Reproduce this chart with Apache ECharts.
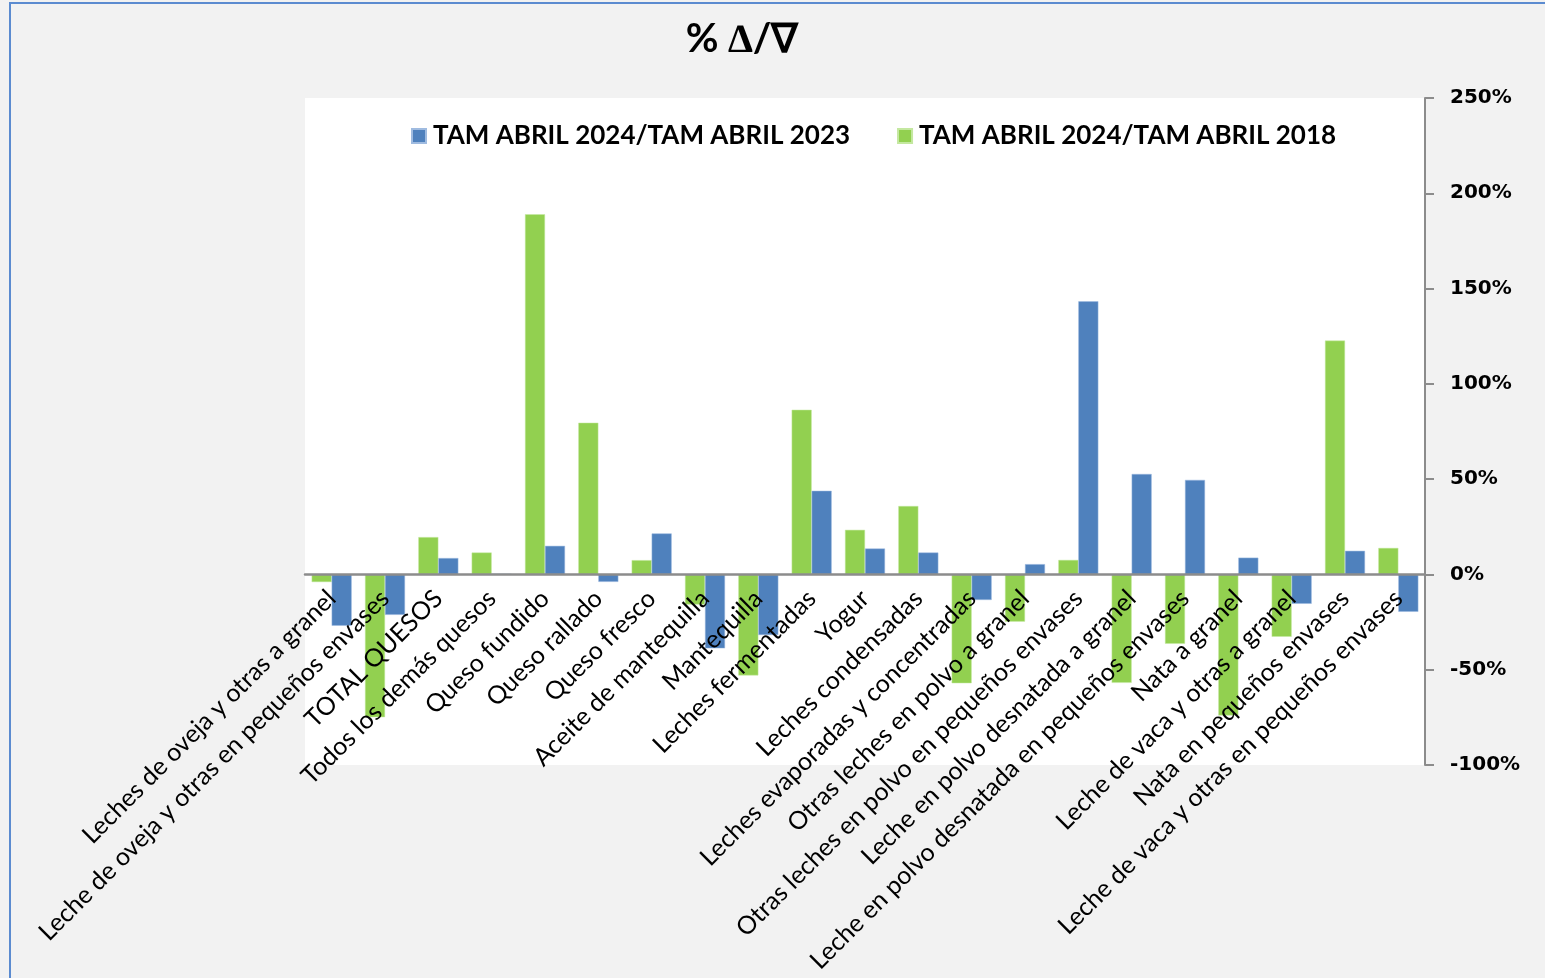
<!DOCTYPE html>
<html>
<head>
<meta charset="utf-8">
<script src="https://cdn.jsdelivr.net/npm/echarts@6/dist/echarts.min.js"></script>
<style>
    * { margin: 0; padding: 0; }
    body { background: #f2f2f2; }
    #chart { width: 1545px; height: 978px; }
</style>
</head>
<body>
<div id="chart"></div>
<script>
    // categorias (eje X)
    var categories = [
        'Leches de oveja y otras a granel',
        'Leche de oveja y otras en pequeños envases',
        'TOTAL QUESOS',
        'Todos los demás quesos',
        'Queso fundido',
        'Queso rallado',
        'Queso fresco',
        'Aceite de mantequilla',
        'Mantequilla',
        'Leches fermentadas',
        'Yogur',
        'Leches condensadas',
        'Leches evaporadas y concentradas',
        'Otras leches en polvo a granel',
        'Otras leches en polvo en pequeños envases',
        'Leche en polvo desnatada a granel',
        'Leche en polvo desnatada en pequeños envases',
        'Nata a granel',
        'Leche de vaca y otras a granel',
        'Nata en pequeños envases',
        'Leche de vaca y otras en pequeños envases'
    ];
    var seriesNames = ['TAM ABRIL 2024/TAM ABRIL 2023', 'TAM ABRIL 2024/TAM ABRIL 2018'];
    // % variacion
    var vs2023 = [-26.9, -21.2, 8.6, 0.3, 15.0, -3.9, 21.5, -38.8, -31.8, 43.9, 13.6, 11.5, -13.4, 5.4, 143.3, 52.7, 49.6, 8.8, -15.4, 12.4, -19.6];
    var vs2018 = [-4.0, -74.9, 19.6, 11.5, 189.0, 79.6, 7.5, -15.8, -53.0, 86.4, 23.4, 35.9, -57.1, -24.8, 7.6, -56.9, -36.4, -74.0, -32.7, 122.7, 13.9];
    var yTicks = { min: -100, max: 250, interval: 50 };

    // el eje X se coloca sobre el 0% (las etiquetas van junto a la linea)
    var gridTop = 98, gridBottom = 213, gridHeight = 978 - gridTop - gridBottom;
    var zeroOffset = -gridHeight * (0 - yTicks.min) / (yTicks.max - yTicks.min);

    var option = {
        backgroundColor: '#f2f2f2',
        animation: false,
        title: {
            text: '% \u2206/\u2207',
            left: 737,
            textAlign: 'center',
            top: 14,
            textStyle: { fontFamily: 'Lato', fontWeight: 'bold', fontSize: 40, color: '#000' }
        },
        graphic: [
            {
                type: 'rect',
                shape: { x: 10, y: 3, width: 1560, height: 1000 },
                style: { fill: null, stroke: '#5b8bd0', lineWidth: 2 },
                silent: true
            }
        ],
        legend: {
            data: seriesNames,
            left: 406,
            top: 118,
            itemWidth: 14,
            itemHeight: 14,
            itemGap: 47,
            icon: 'rect',
            textStyle: { fontFamily: 'Lato', fontWeight: 'bold', fontSize: 26, color: '#000', padding: [0, 0, 0, 2] }
        },
        grid: {
            left: 305,
            right: 120,
            top: gridTop,
            bottom: gridBottom,
            outerBoundsMode: 'none',
            containLabel: false,
            show: true,
            backgroundColor: '#ffffff',
            borderWidth: 0
        },
        xAxis: {
            type: 'category',
            data: categories,
            offset: zeroOffset,
            z: 5,   // etiquetas por encima de las barras
            axisLine: { onZero: false, lineStyle: { color: '#8c8c8c', width: 2.5 } },
            axisTick: { show: false },
            axisLabel: {
                interval: 0,
                rotate: 45,
                margin: 20,
                fontFamily: 'Lato',
                fontSize: 25,
                color: '#000'
            }
        },
        yAxis: {
            type: 'value',
            position: 'right',
            min: yTicks.min,
            max: yTicks.max,
            interval: yTicks.interval,
            splitLine: { show: false },
            axisLine: { show: true, lineStyle: { color: '#8c8c8c', width: 2 } },
            axisTick: { show: true, length: 9, lineStyle: { color: '#8c8c8c', width: 2 } },
            axisLabel: {
                margin: 25,
                fontFamily: 'DejaVu Sans',
                fontWeight: 'bold',
                fontSize: 20,
                color: '#000',
                formatter: '{value}%'
            }
        },
        series: [
            {
                name: seriesNames[1],
                type: 'bar',
                barWidth: 20,
                barGap: '0%',
                itemStyle: { color: '#92d050', borderColor: '#c4e8a0', borderWidth: 0.5 },
                data: vs2018
            },
            {
                name: seriesNames[0],
                type: 'bar',
                barWidth: 20,
                barGap: '0%',
                itemStyle: { color: '#4f81bd', borderColor: '#9fbbe0', borderWidth: 0.5 },
                data: vs2023
            }
        ]
    };

    var myChart = echarts.init(document.getElementById('chart'));
    myChart.setOption(option);
</script>
</body>
</html>
